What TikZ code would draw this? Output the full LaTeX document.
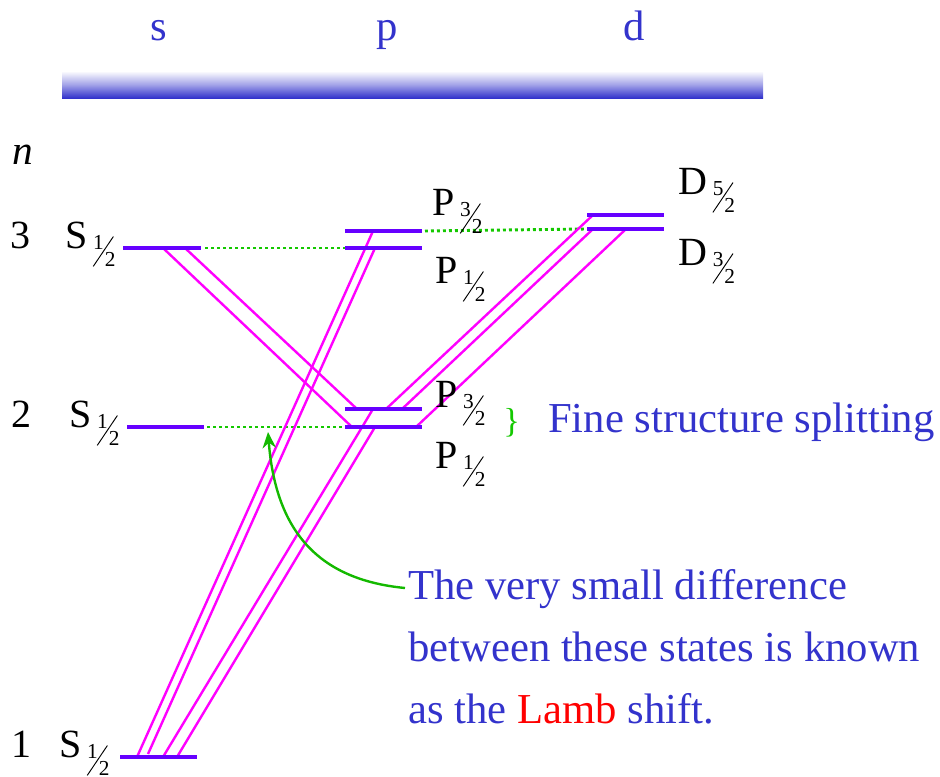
\documentclass[tikz,border=0pt]{standalone}
\usepackage{fontspec}
\setmainfont{Liberation Serif}
\usetikzlibrary{arrows.meta}
\definecolor{lvl}{RGB}{102,0,255}
\definecolor{mag}{RGB}{255,0,255}
\definecolor{grn}{RGB}{20,200,0}
\definecolor{arrgrn}{RGB}{20,185,0}
\definecolor{txtblue}{RGB}{51,51,204}
\definecolor{lambred}{RGB}{255,0,0}
\newcommand\fsz{\fontsize{16}{16}\selectfont}
\newcommand\hf[2]{\kern4pt\rlap{\raisebox{-14pt}{\rotatebox{56}{\rule{27pt}{.7pt}}}}\kern0.3pt\rlap{\raisebox{-1pt}{\fsz#1}}\kern8.7pt\raisebox{-14pt}{\fsz#2}}
\begin{document}
\begin{tikzpicture}[x=0.75pt,y=-0.75pt,
  level/.style={draw=lvl, line width=3pt},
  trans/.style={draw=mag, line width=1.8pt},
  guide/.style={draw=grn, line width=2.2pt, dash pattern=on 2.2pt off 2.3pt},
  lab/.style={anchor=base west, inner sep=0pt, font=\fontsize{30}{30}\selectfont},
  num/.style={anchor=base west, inner sep=0pt, font=\fontsize{30}{30}\selectfont},
  bluetxt/.style={anchor=base west, inner sep=0pt, text=txtblue, font=\fontsize{32}{32}\selectfont},
  toplab/.style={anchor=base, inner sep=0pt, text=txtblue, font=\fontsize{32}{32}\selectfont}]
\useasboundingbox (0,0) rectangle (940,776);

% header
\node[toplab] (hs) at (159,40) {s};
\node[toplab] (hp) at (387,40) {p};
\node[toplab] (hd) at (634,40) {d};
\shade[top color=white, bottom color=txtblue, middle color=txtblue!45] (62,71) rectangle (763,98);

% level end points
\coordinate (s3L) at (123,248); \coordinate (s3R) at (201,248);
\coordinate (p33L) at (345,231); \coordinate (p33R) at (422,231);
\coordinate (p31L) at (345,248); \coordinate (p31R) at (422,248);
\coordinate (d35L) at (587,215); \coordinate (d35R) at (664,215);
\coordinate (d33L) at (587,229); \coordinate (d33R) at (664,229);
\coordinate (s2L) at (127,427); \coordinate (s2R) at (204,427);
\coordinate (p23L) at (345,409); \coordinate (p23R) at (422,409);
\coordinate (p21L) at (345,427); \coordinate (p21R) at (422,427);
\coordinate (s1L) at (120,757); \coordinate (s1R) at (197,757);

% green dotted guides
\coordinate (g1a) at (205,248);
\draw[guide] (g1a) -- (p31L);
\coordinate (g2a) at (425,231); \coordinate (g2b) at (585,229);
\draw[guide] (g2a) -- (g2b);
\coordinate (g3a) at (207,427);
\draw[guide] (g3a) -- (p21L);

% transition end points
\coordinate (t1a) at (163,248); \coordinate (t1b) at (352,427);
\coordinate (t2a) at (185,248); \coordinate (t2b) at (357,409);
\coordinate (t3a) at (137,757); \coordinate (t3b) at (373,231);
\coordinate (t4a) at (148,754); \coordinate (t4b) at (375,248);
\coordinate (t5a) at (163,757); \coordinate (t5b) at (373,409);
\coordinate (t6a) at (177,757); \coordinate (t6b) at (375,427);
\coordinate (t7a) at (386,409); \coordinate (t7b) at (593,215);
\coordinate (t8a) at (402,409); \coordinate (t8b) at (593,229);
\coordinate (t9a) at (416,427); \coordinate (t9b) at (626,229);

\draw[trans] (t1a) -- (t1b);
\draw[trans] (t2a) -- (t2b);
\draw[trans] (t3a) -- (t3b);
\draw[trans] (t4a) -- (t4b);
\draw[trans] (t5a) -- (t5b);
\draw[trans] (t6a) -- (t6b);
\draw[trans] (t7a) -- (t7b);
\draw[trans] (t8a) -- (t8b);
\draw[trans] (t9a) -- (t9b);

% levels
\draw[level] (s3L) -- (s3R);
\draw[level] (p33L) -- (p33R);
\draw[level] (p31L) -- (p31R);
\draw[level] (d35L) -- (d35R);
\draw[level] (d33L) -- (d33R);
\draw[level] (s2L) -- (s2R);
\draw[level] (p23L) -- (p23R);
\draw[level] (p21L) -- (p21R);
\draw[level] (s1L) -- (s1R);

% left labels
\node[num, font=\fontsize{31}{31}\selectfont\itshape] (nlab) at (12,164) {n};
\node[num] (n3) at (10,248) {3};
\node[num] (n2) at (11,427) {2};
\node[num] (n1) at (11,757) {1};
\node[lab] (ls3) at (65,248) {S\hf{1}{2}};
\node[lab] (ls2) at (69,427) {S\hf{1}{2}};
\node[lab] (ls1) at (59,757) {S\hf{1}{2}};

% right labels
\node[lab] (lp33) at (432,215) {P\hf{3}{2}};
\node[lab] (lp31) at (435,283) {P\hf{1}{2}};
\node[lab] (ld35) at (678,194) {D\hf{5}{2}};
\node[lab] (ld33) at (678,265) {D\hf{3}{2}};
\node[lab] (lp23) at (435,407) {P\hf{3}{2}};
\node[lab] (lp21) at (435,468) {P\hf{1}{2}};

% fine structure
\node[anchor=base west, inner sep=0pt, text=grn, font=\fontsize{26}{26}\selectfont] (brace) at (503,432) {\}};
\node[bluetxt] (fine) at (548,432) {Fine structure splitting};

% Lamb shift text
\node[bluetxt] (lamb1) at (408,599) {The very small difference};
\node[bluetxt] (lamb2) at (408,661) {between these states is known};
\node[bluetxt] (lamb3) at (408,723) {as the \textcolor{lambred}{Lamb} shift.};

\coordinate (arrS) at (405,588);
\coordinate (arrE) at (268,432);
\draw[arrgrn, line width=1.8pt, -{Stealth[length=12pt,width=10pt]}]
  (arrS) .. controls (322,580) and (276,535) .. (arrE);
\end{tikzpicture}
\end{document}
